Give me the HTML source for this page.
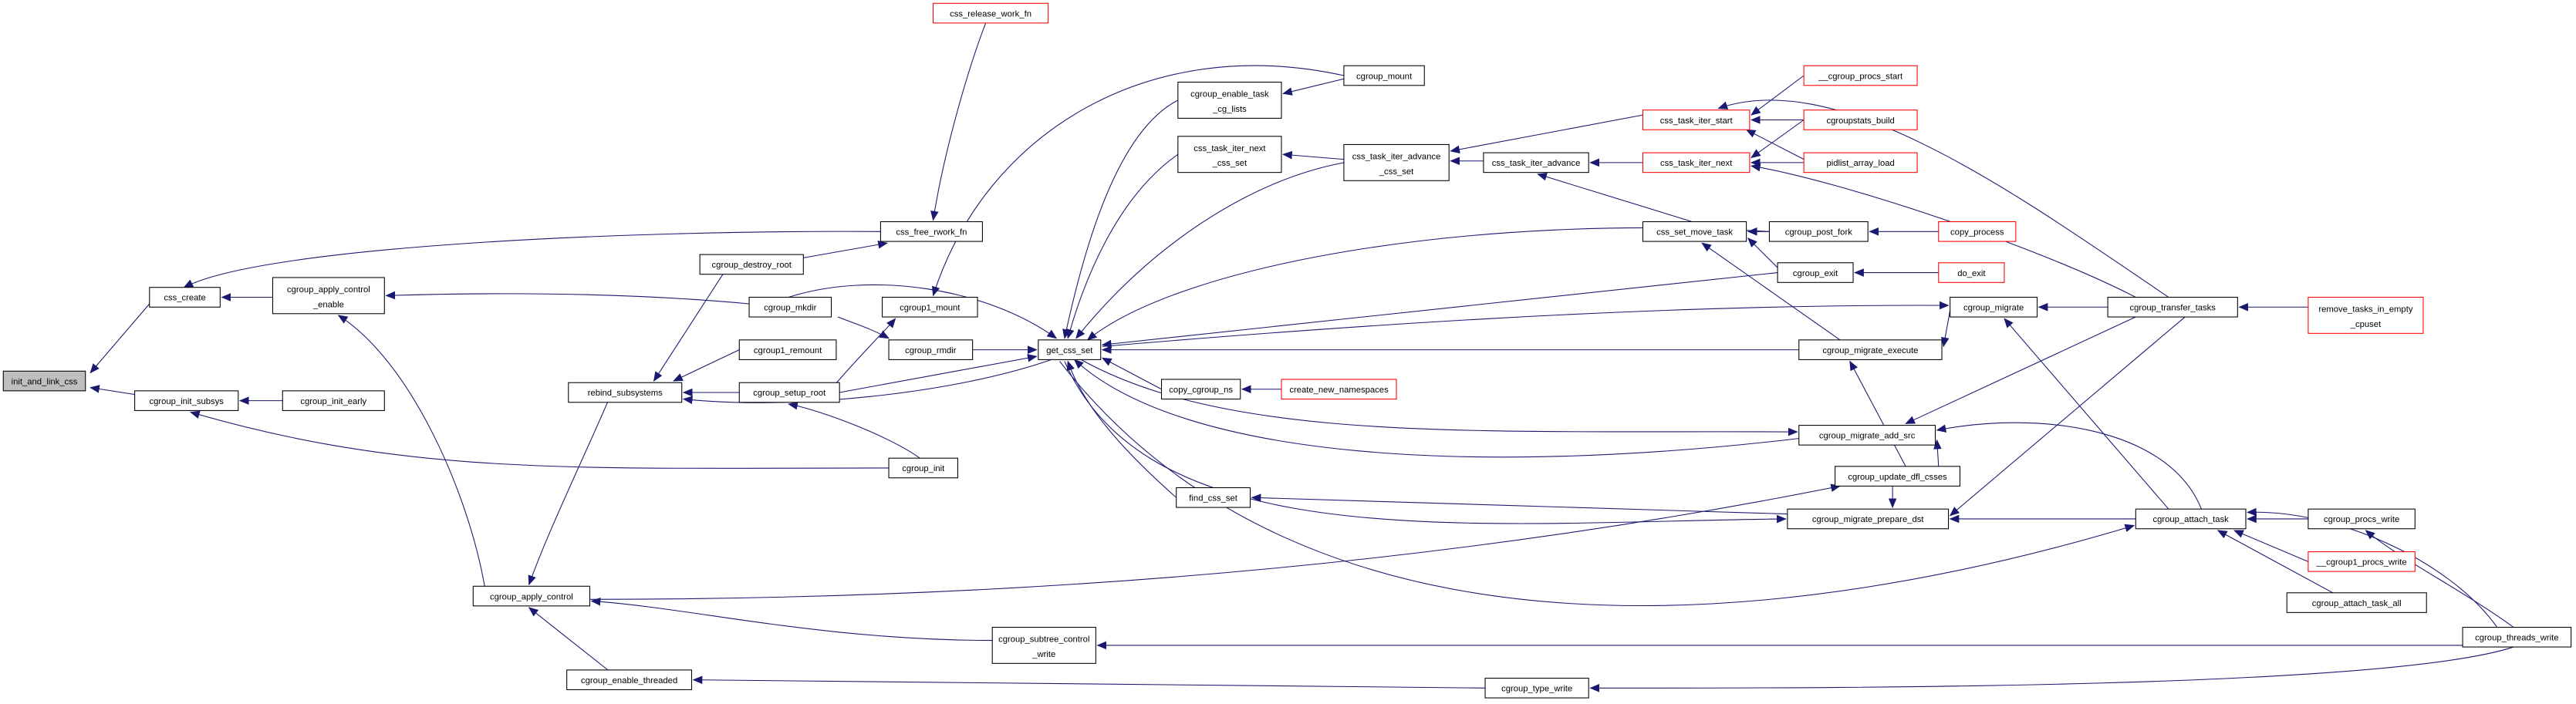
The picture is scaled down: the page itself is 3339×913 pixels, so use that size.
<!DOCTYPE html>
<html><head><meta charset="utf-8"><style>
html,body{margin:0;padding:0;background:#fff;}
svg{display:block;}
text{font-family:"Liberation Sans",Arial,sans-serif;font-size:5.3px;fill:#000;text-anchor:middle;}
.n{fill:#fff;stroke:#000;stroke-width:0.5;}
.r{fill:#fff;stroke:#f00;stroke-width:0.5;}
.g{fill:#bfbfbf;stroke:#000;stroke-width:0.5;}
path{fill:none;stroke:#191970;stroke-width:0.5;marker-end:url(#a);}
</style></head><body>
<svg width="3339" height="913" viewBox="0 0 1568 428.7" xmlns="http://www.w3.org/2000/svg">
<defs><marker id="a" markerUnits="userSpaceOnUse" markerWidth="6" markerHeight="5" refX="5.5" refY="2.5" orient="auto"><polygon points="0,0 6,2.5 0,5" fill="#191970"/></marker></defs>

<!-- edges -->
<path d="M91,185 L55,227"/>
<path d="M87,241 L55,236"/>
<path d="M166,181 L135,181"/>
<path d="M172,244 L146,244"/>
<path d="M541,285 C350,285 250,290 116,251"/>
<path d="M536,141 C380,140 160,150 112,175"/>
<path d="M600,14 C590,40 575,90 568,134"/>
<path d="M489,157 L540,148"/>
<path d="M456,185 C380,178 300,178 235,180"/>
<path d="M295,357 C285,300 250,220 206,192"/>
<path d="M375,233 C355,280 335,320 322,356"/>
<path d="M440,167 L398,232"/>
<path d="M450,213 L410,232"/>
<path d="M450,239 L416,239"/>
<path d="M640,219 C580,240 480,250 416,243"/>
<path d="M480,181 C530,165 600,175 643,206"/>
<path d="M818,46 C700,20 600,80 568,180"/>
<path d="M510,193 C520,197 530,200 541,206"/>
<path d="M592,213 L631,213"/>
<path d="M511,239 L631,217"/>
<path d="M560,279 C540,265 500,250 480,246"/>
<path d="M505,238 C520,220 540,200 545,194"/>
<path d="M717,61 C680,80 660,150 648,206"/>
<path d="M717,94 C680,120 660,170 650,206"/>
<path d="M818,99 C760,110 700,150 655,206"/>
<path d="M1077,141 C900,130 720,160 662,207"/>
<path d="M1082,166 L671,210"/>
<path d="M671,211 C800,200 1000,185 1186,186"/>
<path d="M1095,213 L671,213"/>
<path d="M707,237 L671,218"/>
<path d="M780,237 L756,237"/>
<path d="M658,219 C750,270 900,262 1094,263"/>
<path d="M1095,267 C900,290 720,280 654,219"/>
<path d="M716,303 C690,280 660,250 650,220"/>
<path d="M648,220 C700,340 900,318 1087,316"/>
<path d="M645,220 C800,420 1100,380 1299,320"/>
<path d="M818,48 L781,57"/>
<path d="M818,97 L781,94"/>
<path d="M903,98 L883,98"/>
<path d="M1000,70 L883,92"/>
<path d="M1000,99 L968,99"/>
<path d="M1030,135 L936,106"/>
<path d="M1098,46 L1066,70"/>
<path d="M1098,73 L1066,73"/>
<path d="M1098,97 L1063,79"/>
<path d="M1098,73 L1066,96"/>
<path d="M1098,99 L1066,99"/>
<path d="M1320,181 C1230,120 1120,40 1046,66"/>
<path d="M1300,181 C1240,150 1120,110 1066,101"/>
<path d="M1077,141 L1064,141"/>
<path d="M1082,163 L1064,145"/>
<path d="M1120,207 L1036,148"/>
<path d="M1180,141 L1138,141"/>
<path d="M1180,166 L1129,166"/>
<path d="M1187,189 L1183,211"/>
<path d="M1283,187 L1241,187"/>
<path d="M1320,310 L1220,194"/>
<path d="M1405,187 L1363,187"/>
<path d="M1180,284 L1179,268"/>
<path d="M1160,284 L1126,220"/>
<path d="M1152,296 L1152,309"/>
<path d="M1300,193 L1160,258"/>
<path d="M1340,310 C1320,260 1240,250 1179,262"/>
<path d="M1330,193 L1187,314"/>
<path d="M1300,316 L1187,316"/>
<path d="M1088,313 L762,303"/>
<path d="M359,365 C700,365 950,330 1120,296"/>
<path d="M1405,316 L1368,316"/>
<path d="M1405,342 L1360,323"/>
<path d="M1420,361 L1350,323"/>
<path d="M1520,382 C1490,340 1420,310 1368,312"/>
<path d="M1530,382 C1500,360 1460,340 1440,323"/>
<path d="M604,390 C500,390 420,370 360,366"/>
<path d="M1499,393 L668,393"/>
<path d="M370,408 L322,370"/>
<path d="M904,419 L422,414"/>
<path d="M1530,394 C1450,420 1100,419 968,419"/>

<!-- nodes -->
<rect class="g" x="2" y="226" width="50" height="12"/><text x="27" y="234">init_and_link_css</text>
<rect class="n" x="91" y="175" width="43" height="12"/><text x="112.5" y="183">css_create</text>
<rect class="n" x="82" y="238" width="63" height="12"/><text x="113.5" y="246">cgroup_init_subsys</text>
<rect class="n" x="172" y="238" width="62" height="12"/><text x="203" y="246">cgroup_init_early</text>
<rect class="n" x="166" y="169" width="68" height="22"/><text x="200" y="178">cgroup_apply_control</text><text x="200" y="187">_enable</text>
<rect class="n" x="536" y="135" width="62" height="12"/><text x="567" y="143">css_free_rwork_fn</text>
<rect class="r" x="568" y="2" width="70" height="12"/><text x="603" y="10">css_release_work_fn</text>
<rect class="n" x="426" y="155" width="63" height="12"/><text x="457.5" y="163">cgroup_destroy_root</text>
<rect class="n" x="456" y="181" width="50" height="12"/><text x="481" y="189">cgroup_mkdir</text>
<rect class="n" x="537" y="181" width="58" height="12"/><text x="566" y="189">cgroup1_mount</text>
<rect class="n" x="541" y="207" width="51" height="12"/><text x="566.5" y="215">cgroup_rmdir</text>
<rect class="n" x="450" y="207" width="59" height="12"/><text x="479.5" y="215">cgroup1_remount</text>
<rect class="n" x="346" y="233" width="69" height="12"/><text x="380.5" y="241">rebind_subsystems</text>
<rect class="n" x="450" y="233" width="61" height="12"/><text x="480.5" y="241">cgroup_setup_root</text>
<rect class="n" x="541" y="279" width="42" height="12"/><text x="562" y="287">cgroup_init</text>
<rect class="n" x="288" y="357" width="71" height="12"/><text x="323.5" y="365">cgroup_apply_control</text>
<rect class="n" x="345" y="408" width="76" height="12"/><text x="383" y="416">cgroup_enable_threaded</text>
<rect class="n" x="632" y="207" width="38" height="12"/><text x="651" y="215">get_css_set</text>
<rect class="n" x="717" y="50" width="63" height="22"/><text x="748.5" y="59">cgroup_enable_task</text><text x="748.5" y="68">_cg_lists</text>
<rect class="n" x="818" y="40" width="49" height="12"/><text x="842.5" y="48">cgroup_mount</text>
<rect class="n" x="717" y="83" width="63" height="22"/><text x="748.5" y="92">css_task_iter_next</text><text x="748.5" y="101">_css_set</text>
<rect class="n" x="818" y="88" width="64" height="22"/><text x="850" y="97">css_task_iter_advance</text><text x="850" y="106">_css_set</text>
<rect class="n" x="903" y="93" width="64" height="12"/><text x="935" y="101">css_task_iter_advance</text>
<rect class="r" x="1000" y="67" width="65" height="12"/><text x="1032.5" y="75">css_task_iter_start</text>
<rect class="r" x="1098" y="40" width="69" height="12"/><text x="1132.5" y="48">__cgroup_procs_start</text>
<rect class="r" x="1098" y="67" width="69" height="12"/><text x="1132.5" y="75">cgroupstats_build</text>
<rect class="r" x="1000" y="93" width="65" height="12"/><text x="1032.5" y="101">css_task_iter_next</text>
<rect class="r" x="1098" y="93" width="69" height="12"/><text x="1132.5" y="101">pidlist_array_load</text>
<rect class="n" x="1000" y="135" width="63" height="12"/><text x="1031.5" y="143">css_set_move_task</text>
<rect class="n" x="1077" y="135" width="60" height="12"/><text x="1107" y="143">cgroup_post_fork</text>
<rect class="r" x="1180" y="135" width="47" height="12"/><text x="1203.5" y="143">copy_process</text>
<rect class="n" x="1082" y="160" width="46" height="12"/><text x="1105" y="168">cgroup_exit</text>
<rect class="r" x="1180" y="160" width="40" height="12"/><text x="1200" y="168">do_exit</text>
<rect class="n" x="1187" y="181" width="53" height="12"/><text x="1213.5" y="189">cgroup_migrate</text>
<rect class="n" x="1283" y="181" width="79" height="12"/><text x="1322.5" y="189">cgroup_transfer_tasks</text>
<rect class="r" x="1405" y="181" width="70" height="22"/><text x="1440" y="190">remove_tasks_in_empty</text><text x="1440" y="199">_cpuset</text>
<rect class="n" x="1095" y="207" width="87" height="12"/><text x="1138.5" y="215">cgroup_migrate_execute</text>
<rect class="n" x="707" y="231" width="48" height="12"/><text x="731" y="239">copy_cgroup_ns</text>
<rect class="r" x="780" y="231" width="70" height="12"/><text x="815" y="239">create_new_namespaces</text>
<rect class="n" x="1095" y="259" width="83" height="12"/><text x="1136.5" y="267">cgroup_migrate_add_src</text>
<rect class="n" x="1117" y="284" width="76" height="12"/><text x="1155" y="292">cgroup_update_dfl_csses</text>
<rect class="n" x="716" y="297" width="45" height="12"/><text x="738.5" y="305">find_css_set</text>
<rect class="n" x="1088" y="310" width="98" height="12"/><text x="1137" y="318">cgroup_migrate_prepare_dst</text>
<rect class="n" x="1300" y="310" width="67" height="12"/><text x="1333.5" y="318">cgroup_attach_task</text>
<rect class="n" x="1405" y="310" width="65" height="12"/><text x="1437.5" y="318">cgroup_procs_write</text>
<rect class="r" x="1405" y="336" width="65" height="12"/><text x="1437.5" y="344">__cgroup1_procs_write</text>
<rect class="n" x="1392" y="361" width="85" height="12"/><text x="1434.5" y="369">cgroup_attach_task_all</text>
<rect class="n" x="1499" y="382" width="66" height="12"/><text x="1532" y="390">cgroup_threads_write</text>
<rect class="n" x="604" y="382" width="63" height="22"/><text x="635.5" y="391">cgroup_subtree_control</text><text x="635.5" y="400">_write</text>
<rect class="n" x="904" y="413" width="63" height="12"/><text x="935.5" y="421">cgroup_type_write</text>
</svg>
</body></html>
